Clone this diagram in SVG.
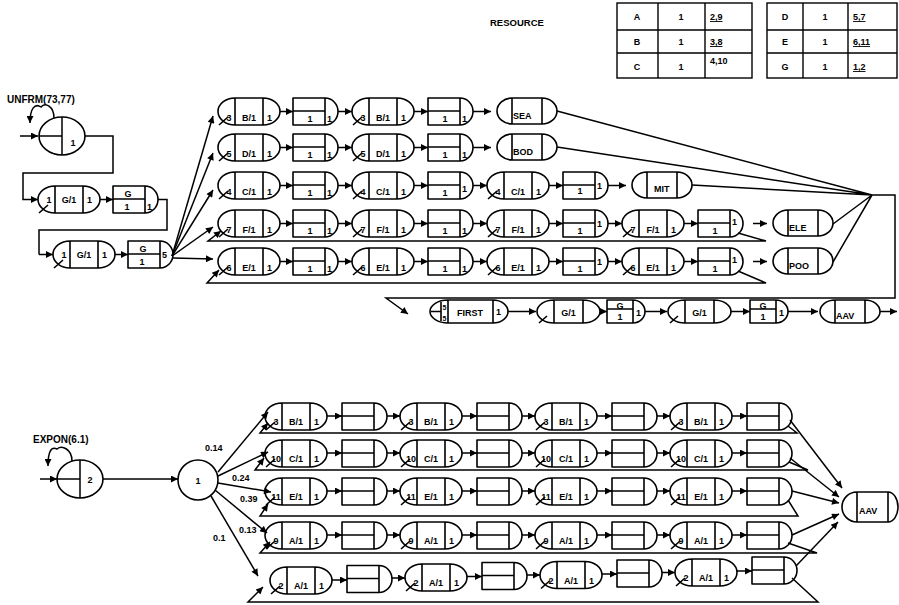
<svg xmlns="http://www.w3.org/2000/svg" width="899" height="605" viewBox="0 0 899 605">
<style>
.n{fill:#fff;stroke:#000;stroke-width:1.6;stroke-linejoin:round}
.l{fill:none;stroke:#000;stroke-width:1.5}
.a{fill:none;stroke:#000;stroke-width:1.5;marker-end:url(#ah)}
.tb{fill:none;stroke:#000;stroke-width:1.4}
text{font-family:"Liberation Sans",Arial,sans-serif;font-size:9px;font-weight:bold;fill:#000}
.m{text-anchor:middle}
.s{font-size:7px}
.u{text-decoration:underline}
</style>
<defs>
<marker id="ah" viewBox="0 0 10 10" refX="10" refY="5" markerWidth="9" markerHeight="7" markerUnits="userSpaceOnUse" orient="auto"><path d="M0,0 L10,5 L0,10 z"/></marker>
<path id="aw" class="n" d="M17,0 H45 A17,13.5 0 0 1 45,27 H17 A17,13.5 0 0 1 17,0 Z M17,0 V27 M45,0 V27 M1,27 L10,19"/>
<path id="bx" class="n" d="M0,0 H32 A13,13.5 0 0 1 32,27 H0 Z M32,0 V27 M0,13 H32"/>
<path id="sk" class="n" d="M15,0 H45 A15,13 0 0 1 45,26 H15 A15,13 0 0 1 15,0 Z M15,0 V26 M45,0 V26"/>
<path id="aws" class="n" d="M17,0 H46 A17,11.5 0 0 1 46,23 H17 A17,11.5 0 0 1 17,0 Z M17,0 V23 M46,0 V23 M2,23 L10,16"/>
<path id="bxs" class="n" d="M0,0 H26 A12,11.5 0 0 1 26,23 H0 Z M26,0 V23 M0,9 H26"/>
<path id="sks" class="n" d="M15,0 H45 A15,11.5 0 0 1 45,23 H15 A15,11.5 0 0 1 15,0 Z M15,0 V23 M45,0 V23"/>
</defs>

<g id="resource">
<text x="490" y="26" style="font-size:9.5px">RESOURCE</text>
<rect class="tb" x="617" y="3" width="135" height="75"/>
<path class="tb" d="M617,30 H752 M617,53 H752 M658,3 V78 M705,3 V78"/>
<text x="637" y="20" class="m">A</text><text x="681" y="20" class="m">1</text><text x="710" y="20" class="u">2,9</text>
<text x="637" y="45" class="m">B</text><text x="681" y="45" class="m">1</text><text x="710" y="45" class="u">3,8</text>
<text x="637" y="70" class="m">C</text><text x="681" y="70" class="m">1</text><text x="710" y="64">4,10</text>
<rect class="tb" x="767" y="3" width="130" height="75"/>
<path class="tb" d="M767,30 H897 M767,53 H897 M803,3 V78 M848,3 V78"/>
<text x="785" y="20" class="m">D</text><text x="825" y="20" class="m">1</text><text x="853" y="20" class="u">5,7</text>
<text x="785" y="45" class="m">E</text><text x="825" y="45" class="m">1</text><text x="853" y="45" class="u">6,11</text>
<text x="785" y="70" class="m">G</text><text x="825" y="70" class="m">1</text><text x="853" y="70" class="u">1,2</text>
</g>

<g id="create1">
<text x="7" y="103" style="font-size:10px">UNFRM(73,77)</text>
<ellipse class="n" cx="62" cy="136" rx="23" ry="19"/>
<path class="l" d="M62,117 V155 M39,136 H62"/>
<text x="73" y="146" class="m">1</text>
</g>
<g id="g1a" transform="translate(38,186)"><use href="#aw"/><text x="11" y="17" class="m">1</text><text x="31" y="17" class="m">G/1</text><text x="49" y="17">1</text></g>
<g id="g1b" transform="translate(113,186)"><use href="#bx"/><text x="15" y="11" class="m">G</text><text x="14" y="24" class="m">1</text><text x="34" y="24">1</text></g>
<g id="g2a" transform="translate(53,241)"><use href="#aw"/><text x="11" y="17" class="m">1</text><text x="31" y="17" class="m">G/1</text><text x="49" y="17">1</text></g>
<g id="g2b" transform="translate(128,241)"><use href="#bx"/><text x="15" y="11" class="m">G</text><text x="14" y="24" class="m">1</text><text x="34" y="17">5</text></g>

<g id="r1">
<g id="r1a1" transform="translate(218,98)"><use href="#aw"/><text x="11" y="23" class="m">3</text><text x="31" y="23" class="m">B/1</text><text x="49" y="23">1</text></g>
<g id="r1b1" transform="translate(293,98)"><use href="#bx"/><text x="17" y="24" class="m">1</text><text x="34" y="24">1</text></g>
<g id="r1a2" transform="translate(352,98)"><use href="#aw"/><text x="11" y="23" class="m">3</text><text x="31" y="23" class="m">B/1</text><text x="49" y="23">1</text></g>
<g id="r1b2" transform="translate(428,98)"><use href="#bx"/><text x="17" y="24" class="m">1</text><text x="34" y="24">1</text></g>
<g id="sea" transform="translate(497,98)"><use href="#sk"/><text x="16" y="21">SEA</text></g>
</g>
<g id="r2">
<g id="r2a1" transform="translate(218,134)"><use href="#aw"/><text x="11" y="23" class="m">5</text><text x="31" y="23" class="m">D/1</text><text x="49" y="23">1</text></g>
<g id="r2b1" transform="translate(293,134)"><use href="#bx"/><text x="17" y="24" class="m">1</text><text x="34" y="24">1</text></g>
<g id="r2a2" transform="translate(352,134)"><use href="#aw"/><text x="11" y="23" class="m">5</text><text x="31" y="23" class="m">D/1</text><text x="49" y="23">1</text></g>
<g id="r2b2" transform="translate(428,134)"><use href="#bx"/><text x="17" y="24" class="m">1</text><text x="34" y="24">1</text></g>
<g id="bod" transform="translate(497,134)"><use href="#sk"/><text x="16" y="21">BOD</text></g>
</g>
<g id="r3">
<g id="r3a1" transform="translate(218,172)"><use href="#aw"/><text x="11" y="23" class="m">4</text><text x="31" y="23" class="m">C/1</text><text x="49" y="23">1</text></g>
<g id="r3b1" transform="translate(293,172)"><use href="#bx"/><text x="17" y="24" class="m">1</text><text x="34" y="24">1</text></g>
<g id="r3a2" transform="translate(352,172)"><use href="#aw"/><text x="11" y="23" class="m">4</text><text x="31" y="23" class="m">C/1</text><text x="49" y="23">1</text></g>
<g id="r3b2" transform="translate(428,172)"><use href="#bx"/><text x="17" y="24" class="m">1</text><text x="34" y="20">1</text></g>
<g id="r3a3" transform="translate(487,172)"><use href="#aw"/><text x="11" y="23" class="m">4</text><text x="31" y="23" class="m">C/1</text><text x="49" y="23">1</text></g>
<g id="r3b3" transform="translate(563,172)"><use href="#bx"/><text x="17" y="22" class="m">1</text><text x="34" y="17">1</text></g>
<g id="mit" transform="translate(632,172)"><use href="#sk"/><text x="22" y="20">MIT</text></g>
</g>
<g id="r4">
<g id="r4a1" transform="translate(218,210)"><use href="#aw"/><text x="11" y="23" class="m">7</text><text x="31" y="23" class="m">F/1</text><text x="49" y="23">1</text></g>
<g id="r4b1" transform="translate(293,210)"><use href="#bx"/><text x="17" y="24" class="m">1</text><text x="34" y="24">1</text></g>
<g id="r4a2" transform="translate(352,210)"><use href="#aw"/><text x="11" y="23" class="m">7</text><text x="31" y="23" class="m">F/1</text><text x="49" y="23">1</text></g>
<g id="r4b2" transform="translate(428,210)"><use href="#bx"/><text x="17" y="24" class="m">1</text><text x="34" y="24">1</text></g>
<g id="r4a3" transform="translate(487,210)"><use href="#aw"/><text x="11" y="23" class="m">7</text><text x="31" y="23" class="m">F/1</text><text x="49" y="23">1</text></g>
<g id="r4b3" transform="translate(563,210)"><use href="#bx"/><text x="17" y="24" class="m">1</text><text x="34" y="17">1</text></g>
<g id="r4a4" transform="translate(622,210)"><use href="#aw"/><text x="11" y="23" class="m">7</text><text x="31" y="23" class="m">F/1</text><text x="49" y="23">1</text></g>
<g id="r4b4" transform="translate(698,210)"><use href="#bx"/><text x="17" y="24" class="m">1</text><text x="34" y="15">1</text></g>
<g id="ele" transform="translate(773,210)"><use href="#sk"/><text x="16" y="21">ELE</text></g>
</g>
<g id="r5">
<g id="r5a1" transform="translate(218,248)"><use href="#aw"/><text x="11" y="23" class="m">6</text><text x="31" y="23" class="m">E/1</text><text x="49" y="23">1</text></g>
<g id="r5b1" transform="translate(293,248)"><use href="#bx"/><text x="17" y="24" class="m">1</text><text x="34" y="24">1</text></g>
<g id="r5a2" transform="translate(352,248)"><use href="#aw"/><text x="11" y="23" class="m">6</text><text x="31" y="23" class="m">E/1</text><text x="49" y="23">1</text></g>
<g id="r5b2" transform="translate(428,248)"><use href="#bx"/><text x="17" y="24" class="m">1</text><text x="34" y="24">1</text></g>
<g id="r5a3" transform="translate(487,248)"><use href="#aw"/><text x="11" y="23" class="m">6</text><text x="31" y="23" class="m">E/1</text><text x="49" y="23">1</text></g>
<g id="r5b3" transform="translate(563,248)"><use href="#bx"/><text x="17" y="24" class="m">1</text><text x="34" y="17">1</text></g>
<g id="r5a4" transform="translate(622,248)"><use href="#aw"/><text x="11" y="23" class="m">6</text><text x="31" y="23" class="m">E/1</text><text x="49" y="23">1</text></g>
<g id="r5b4" transform="translate(698,248)"><use href="#bx"/><text x="17" y="24" class="m">1</text><text x="34" y="15">1</text></g>
<g id="poo" transform="translate(773,248)"><use href="#sk"/><text x="16" y="21">POO</text></g>
</g>

<g id="first" transform="translate(430,300)">
<path class="n" d="M18,0 H63 A15,11.5 0 0 1 63,23 H18 A18,11.5 0 0 1 18,0 Z M18,0 V23 M63,0 V23 M1,11.5 H11 M11,2 V21"/>
<text x="14.5" y="10" class="m s">5</text><text x="14.5" y="21" class="m s">5</text>
<text x="40" y="16" class="m">FIRST</text><text x="66" y="15">1</text>
</g>
<g id="fga" transform="translate(537,300)"><use href="#aws"/><text x="31.5" y="16" class="m">G/1</text></g>
<g id="fgb" transform="translate(607,300)"><use href="#bxs"/><text x="13" y="8.5" class="m">G</text><text x="13" y="20" class="m">1</text><text x="29" y="16">1</text></g>
<g id="fgc" transform="translate(668,300)"><use href="#aws"/><text x="31.5" y="16" class="m">G/1</text></g>
<g id="fgd" transform="translate(750,300)"><use href="#bxs"/><text x="13" y="8.5" class="m">G</text><text x="13" y="20" class="m">1</text><text x="29" y="16">1</text></g>
<g id="aav1" transform="translate(820,300)"><use href="#sks"/><text x="16" y="19">AAV</text></g>

<g id="create2">
<text x="33" y="443" style="font-size:10px">EXPON(6.1)</text>
<ellipse class="n" cx="80" cy="479" rx="23" ry="19"/>
<path class="l" d="M80,460 V498 M57,479 H80"/>
<text x="90" y="483" class="m">2</text>
</g>
<g id="goon"><circle class="n" cx="198" cy="480" r="20"/><text x="198" y="484" class="m">1</text></g>
<g id="probs">
<text x="205" y="451">0.14</text>
<text x="232" y="481">0.24</text>
<text x="240" y="502">0.39</text>
<text x="239" y="533">0.13</text>
<text x="213" y="541">0.1</text>
</g>

<g id="b1">
<g id="b1a1" transform="translate(265,403)"><use href="#aw"/><text x="11" y="22" class="m">3</text><text x="31" y="22" class="m">B/1</text><text x="49" y="22">1</text></g>
<g id="b1b1" transform="translate(342,403)"><use href="#bx"/></g>
<g id="b1a2" transform="translate(400,403)"><use href="#aw"/><text x="11" y="22" class="m">3</text><text x="31" y="22" class="m">B/1</text><text x="49" y="22">1</text></g>
<g id="b1b2" transform="translate(477,403)"><use href="#bx"/></g>
<g id="b1a3" transform="translate(535,403)"><use href="#aw"/><text x="11" y="22" class="m">3</text><text x="31" y="22" class="m">B/1</text><text x="49" y="22">1</text></g>
<g id="b1b3" transform="translate(612,403)"><use href="#bx"/></g>
<g id="b1a4" transform="translate(670,403)"><use href="#aw"/><text x="11" y="22" class="m">3</text><text x="31" y="22" class="m">B/1</text><text x="49" y="22">1</text></g>
<g id="b1b4" transform="translate(747,403)"><use href="#bx"/></g>
</g>
<g id="b2">
<g id="b2a1" transform="translate(265,440)"><use href="#aw"/><text x="11" y="22" class="m">10</text><text x="31" y="22" class="m">C/1</text><text x="49" y="22">1</text></g>
<g id="b2b1" transform="translate(342,440)"><use href="#bx"/></g>
<g id="b2a2" transform="translate(400,440)"><use href="#aw"/><text x="11" y="22" class="m">10</text><text x="31" y="22" class="m">C/1</text><text x="49" y="22">1</text></g>
<g id="b2b2" transform="translate(477,440)"><use href="#bx"/></g>
<g id="b2a3" transform="translate(535,440)"><use href="#aw"/><text x="11" y="22" class="m">10</text><text x="31" y="22" class="m">C/1</text><text x="49" y="22">1</text></g>
<g id="b2b3" transform="translate(612,440)"><use href="#bx"/></g>
<g id="b2a4" transform="translate(670,440)"><use href="#aw"/><text x="11" y="22" class="m">10</text><text x="31" y="22" class="m">C/1</text><text x="49" y="22">1</text></g>
<g id="b2b4" transform="translate(747,440)"><use href="#bx"/></g>
</g>
<g id="b3">
<g id="b3a1" transform="translate(265,478)"><use href="#aw"/><text x="11" y="22" class="m">11</text><text x="31" y="22" class="m">E/1</text><text x="49" y="22">1</text></g>
<g id="b3b1" transform="translate(342,478)"><use href="#bx"/></g>
<g id="b3a2" transform="translate(400,478)"><use href="#aw"/><text x="11" y="22" class="m">11</text><text x="31" y="22" class="m">E/1</text><text x="49" y="22">1</text></g>
<g id="b3b2" transform="translate(477,478)"><use href="#bx"/></g>
<g id="b3a3" transform="translate(535,478)"><use href="#aw"/><text x="11" y="22" class="m">11</text><text x="31" y="22" class="m">E/1</text><text x="49" y="22">1</text></g>
<g id="b3b3" transform="translate(612,478)"><use href="#bx"/></g>
<g id="b3a4" transform="translate(670,478)"><use href="#aw"/><text x="11" y="22" class="m">11</text><text x="31" y="22" class="m">E/1</text><text x="49" y="22">1</text></g>
<g id="b3b4" transform="translate(747,478)"><use href="#bx"/></g>
</g>
<g id="b4">
<g id="b4a1" transform="translate(265,522)"><use href="#aw"/><text x="11" y="22" class="m">9</text><text x="31" y="22" class="m">A/1</text><text x="49" y="22">1</text></g>
<g id="b4b1" transform="translate(342,522)"><use href="#bx"/></g>
<g id="b4a2" transform="translate(400,522)"><use href="#aw"/><text x="11" y="22" class="m">9</text><text x="31" y="22" class="m">A/1</text><text x="49" y="22">1</text></g>
<g id="b4b2" transform="translate(477,522)"><use href="#bx"/></g>
<g id="b4a3" transform="translate(535,522)"><use href="#aw"/><text x="11" y="22" class="m">9</text><text x="31" y="22" class="m">A/1</text><text x="49" y="22">1</text></g>
<g id="b4b3" transform="translate(612,522)"><use href="#bx"/></g>
<g id="b4a4" transform="translate(670,522)"><use href="#aw"/><text x="11" y="22" class="m">9</text><text x="31" y="22" class="m">A/1</text><text x="49" y="22">1</text></g>
<g id="b4b4" transform="translate(747,522)"><use href="#bx"/></g>
</g>
<g id="b5">
<g id="b5a1" transform="translate(270,567)"><use href="#aw"/><text x="11" y="22" class="m">2</text><text x="31" y="22" class="m">A/1</text><text x="49" y="22">1</text></g>
<g id="b5b1" transform="translate(347,565.5)"><use href="#bx"/></g>
<g id="b5a2" transform="translate(405,564)"><use href="#aw"/><text x="11" y="22" class="m">2</text><text x="31" y="22" class="m">A/1</text><text x="49" y="22">1</text></g>
<g id="b5b2" transform="translate(482,562.5)"><use href="#bx"/></g>
<g id="b5a3" transform="translate(540,561.5)"><use href="#aw"/><text x="11" y="22" class="m">2</text><text x="31" y="22" class="m">A/1</text><text x="49" y="22">1</text></g>
<g id="b5b3" transform="translate(617,560)"><use href="#bx"/></g>
<g id="b5a4" transform="translate(675,559)"><use href="#aw"/><text x="11" y="22" class="m">2</text><text x="31" y="22" class="m">A/1</text><text x="49" y="22">1</text></g>
<g id="b5b4" transform="translate(752,557)"><use href="#bx"/></g>
</g>
<g id="aav2" transform="translate(842,492)">
<path class="n" d="M15,0 H46 A10,15 0 0 1 46,30 H15 A15,15 0 0 1 15,0 Z M15,0 V30 M46,0 V30"/>
<text x="17" y="22">AAV</text>
</g>

<g id="connectors">
<path class="a" d="M20,136 H38"/>
<path class="a" d="M54,118 C54,106 45,102 41,107 C35,103 30,108 30,123"/>
<path class="a" d="M85,136 H113 V173 H23 V199.5 H38"/>
<path class="a" d="M100,199.5 H113"/>
<path class="l" d="M158,199.5 H167 V230 H39 V254.5"/>
<path class="a" d="M39,254.5 H53"/>
<path class="a" d="M115,254.5 H128"/>
<path class="a" d="M172,256 L213,116"/>
<path class="a" d="M172,256 L213,153"/>
<path class="a" d="M172,256 L213,190"/>
<path class="a" d="M172,256 L213,227"/>
<path class="a" d="M173,258 L213,259"/>
<path class="a" d="M280,111.5 H293"/><path class="a" d="M338,111.5 H352"/><path class="a" d="M414,111.5 H428"/><path class="a" d="M473,111.5 H491"/>
<path class="a" d="M280,147.5 H293"/><path class="a" d="M338,147.5 H352"/><path class="a" d="M414,147.5 H428"/><path class="a" d="M473,147.5 H491"/>
<path class="a" d="M280,185.5 H293"/><path class="a" d="M338,185.5 H352"/><path class="a" d="M414,185.5 H428"/><path class="a" d="M473,185.5 H487"/><path class="a" d="M549,185.5 H563"/><path class="a" d="M608,185.5 H626"/>
<path class="a" d="M280,223.5 H293"/><path class="a" d="M338,223.5 H352"/><path class="a" d="M414,223.5 H428"/><path class="a" d="M473,223.5 H487"/><path class="a" d="M549,223.5 H563"/><path class="a" d="M608,223.5 H622"/><path class="a" d="M684,223.5 H698"/><path class="a" d="M753,223.5 H767"/>
<path class="a" d="M280,261.5 H293"/><path class="a" d="M338,261.5 H352"/><path class="a" d="M414,261.5 H428"/><path class="a" d="M473,261.5 H487"/><path class="a" d="M549,261.5 H563"/><path class="a" d="M608,261.5 H622"/><path class="a" d="M684,261.5 H698"/><path class="a" d="M753,261.5 H767"/>
<path class="a" d="M738,233 L766,241 H208 L221,231"/>
<path class="a" d="M738,271 L766,283 H207 L219,270"/>
<path class="l" d="M557,111 L872,195 M557,147 L872,195 M692,185 L872,195 M833,224 L872,195 M833,262 L872,195"/>
<path class="a" d="M872,195 H895 V298 H386 L408,314"/>
<path class="a" d="M508,311.5 H536"/><path class="a" d="M600,311.5 H607"/><path class="a" d="M645,311.5 H667"/><path class="a" d="M731,311.5 H750"/><path class="a" d="M788,311.5 H818"/><path class="a" d="M880,311.5 H897"/>
<path class="a" d="M40,479 H57"/>
<path class="a" d="M72,461 C72,449 62,445 57,449 C51,446 48,452 48,466"/>
<path class="a" d="M103,479 H178"/>
<path class="a" d="M218,472 L268,412"/>
<path class="a" d="M218,476 L268,452"/>
<path class="a" d="M218,483 L271,492"/>
<path class="a" d="M215,490 L267,533"/>
<path class="a" d="M211,496 L258,576"/>
<path class="a" d="M327,416 H342"/><path class="a" d="M387,416 H400"/><path class="a" d="M462,416 H477"/><path class="a" d="M522,416 H535"/><path class="a" d="M597,416 H612"/><path class="a" d="M657,416 H670"/><path class="a" d="M732,416 H747"/>
<path class="a" d="M327,453 H342"/><path class="a" d="M387,453 H400"/><path class="a" d="M462,453 H477"/><path class="a" d="M522,453 H535"/><path class="a" d="M597,453 H612"/><path class="a" d="M657,453 H670"/><path class="a" d="M732,453 H747"/>
<path class="a" d="M327,491 H342"/><path class="a" d="M387,491 H400"/><path class="a" d="M462,491 H477"/><path class="a" d="M522,491 H535"/><path class="a" d="M597,491 H612"/><path class="a" d="M657,491 H670"/><path class="a" d="M732,491 H747"/>
<path class="a" d="M327,535 H342"/><path class="a" d="M387,535 H400"/><path class="a" d="M462,535 H477"/><path class="a" d="M522,535 H535"/><path class="a" d="M597,535 H612"/><path class="a" d="M657,535 H670"/><path class="a" d="M732,535 H747"/>
<path class="a" d="M332,580 H347"/><path class="a" d="M392,578 H405"/><path class="a" d="M467,576.5 H482"/><path class="a" d="M527,575 H540"/><path class="a" d="M602,574 H617"/><path class="a" d="M662,572.5 H675"/><path class="a" d="M737,571 H752"/>
<path class="a" d="M790,420 L842,488"/>
<path class="a" d="M790,458 L839,497"/>
<path class="a" d="M792,491 L839,503"/>
<path class="a" d="M792,535 L839,514"/>
<path class="a" d="M796,566 L838,522"/>
<path class="a" d="M788,426 L797,433 H260 L268,423"/>
<path class="a" d="M789,462 L808,470 H255 L264,458"/>
<path class="a" d="M788,500 L798,516 H260 L268,504"/>
<path class="a" d="M788,543 L817,553 H260 L270,542"/>
<path class="a" d="M792,578 L818,602 H248 L263,587"/>
</g>
</svg>
